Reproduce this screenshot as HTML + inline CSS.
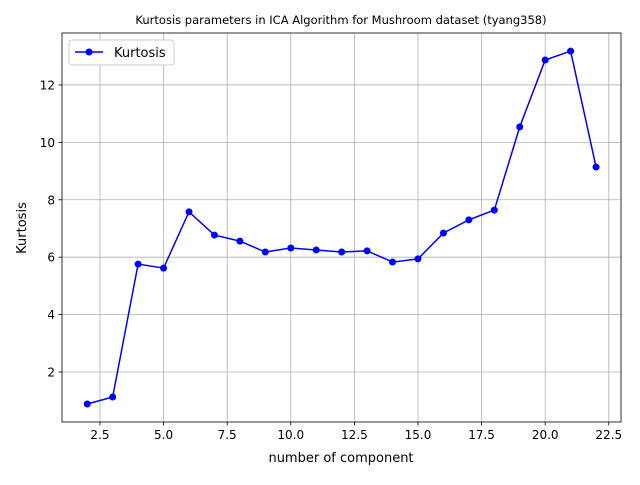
<!DOCTYPE html>
<html><head><meta charset="utf-8"><style>
body{margin:0;background:#fff;}
svg text{font-family:"DejaVu Sans","Liberation Sans",sans-serif;}
</style></head><body>
<svg id="chart" width="640" height="480">
<rect width="640" height="480" fill="#fff"/>
<text x="341" y="24" font-size="11.5" text-anchor="middle">Kurtosis parameters in ICA Algorithm for Mushroom dataset (tyang358)</text>
<g id="grid"></g><g id="axes"></g><g id="series"></g>
<text x="341" y="462" font-size="13" text-anchor="middle">number of component</text>
<text x="26" y="228" font-size="13" text-anchor="middle" transform="rotate(-90 26 228)">Kurtosis</text>
<g>
<rect x="69" y="40" width="105" height="25" rx="3" fill="#fff" stroke="#ccc"/>
<line x1="75" y1="52" x2="103" y2="52" stroke="#0000ff" stroke-width="1.5"/>
<circle cx="89" cy="52" r="3.5" fill="#0000ff"/>
<text x="114" y="57" font-size="13">Kurtosis</text>
</g>
</svg>
<script>
const components=[2,3,4,5,6,7,8,9,10,11,12,13,14,15,16,17,18,19,20,21,22];
const kurtosis=[0.885,1.13,5.76,5.62,7.58,6.77,6.56,6.18,6.32,6.25,6.18,6.22,5.83,5.94,6.84,7.30,7.64,10.54,12.87,13.18,9.14];
const xTicks=[2.5,5.0,7.5,10.0,12.5,15.0,17.5,20.0,22.5];
const yTicks=[2,4,6,8,10,12];
const L=62,R=621,T=33,B=422,xmin=1.008,xmax=22.98,ymin=0.258,ymax=13.81;
const X=v=>L+(v-xmin)/(xmax-xmin)*(R-L);
const Y=v=>B-(v-ymin)/(ymax-ymin)*(B-T);
const ns="http://www.w3.org/2000/svg";
function mk(tag,attrs,parent){const e=document.createElementNS(ns,tag);for(const k in attrs)e.setAttribute(k,attrs[k]);parent.appendChild(e);return e;}
const grid=document.getElementById('grid'),axes=document.getElementById('axes'),series=document.getElementById('series');
xTicks.forEach(t=>{const x=X(t);
const g=mk('line',{x1:x,x2:x,y1:T,y2:B,stroke:'#b0b0b0','stroke-width':0.8},grid);


mk('line',{x1:x,x2:x,y1:B,y2:B+3.5,stroke:'#000','stroke-width':0.8},axes);
const tx=mk('text',{x:x,y:B+17,'font-size':12,'text-anchor':'middle'},axes);tx.textContent=t.toFixed(1);

});
yTicks.forEach(t=>{const y=Y(t);
const g=mk('line',{x1:L,x2:R,y1:y,y2:y,stroke:'#b0b0b0','stroke-width':0.8},grid);


mk('line',{x1:L-3.5,x2:L,y1:y,y2:y,stroke:'#000','stroke-width':0.8},axes);
const tx=mk('text',{x:L-7,y:y+4.5,'font-size':12,'text-anchor':'end'},axes);tx.textContent=t;

});
const fr=mk('rect',{x:L,y:T,width:R-L,height:B-T,fill:'none',stroke:'#000','stroke-width':0.8},axes);


const pl=mk('polyline',{points:components.map((c,i)=>X(c)+','+Y(kurtosis[i])).join(' '),fill:'none',stroke:'#0000ff','stroke-width':1.5},series);


components.forEach((c,i)=>{const p=mk('circle',{cx:X(c),cy:Y(kurtosis[i]),r:3.5,fill:'#0000ff'},series);

});
</script>
</body></html>
